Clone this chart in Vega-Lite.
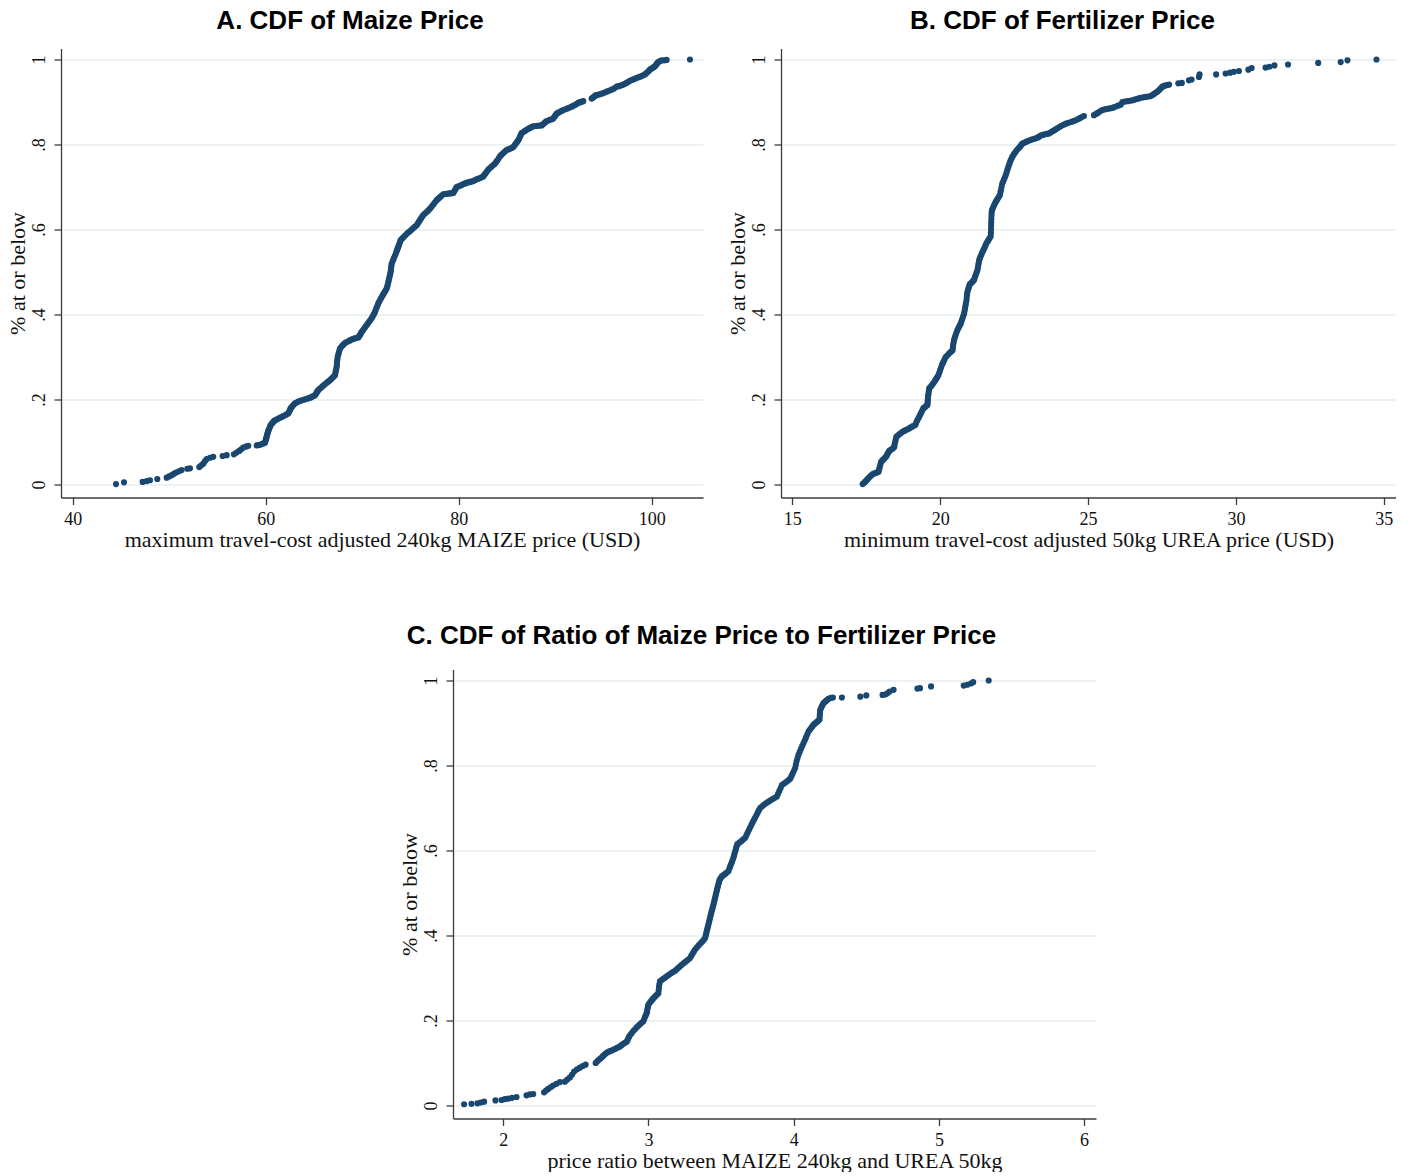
{
  "$schema": "https://vega.github.io/schema/vega-lite/v6.json",
  "background": "white",
  "padding": {"left": 6, "top": 7.5, "right": 0, "bottom": 0},
  "datasets": {
    "maize": [
      {"price": 44.49, "share": 0.001}, {"price": 45.32, "share": 0.005}, {"price": 47.25, "share": 0.006}, {"price": 47.67, "share": 0.008},
      {"price": 48.01, "share": 0.010}, {"price": 48.77, "share": 0.013}, {"price": 49.74, "share": 0.016}, {"price": 50.0, "share": 0.019},
      {"price": 50.26, "share": 0.022}, {"price": 50.48, "share": 0.025}, {"price": 50.70, "share": 0.028}, {"price": 51.0, "share": 0.031},
      {"price": 51.29, "share": 0.034}, {"price": 51.88, "share": 0.037}, {"price": 52.16, "share": 0.038}, {"price": 53.12, "share": 0.041},
      {"price": 53.33, "share": 0.045}, {"price": 53.54, "share": 0.049}, {"price": 53.72, "share": 0.055}, {"price": 53.89, "share": 0.060},
      {"price": 54.23, "share": 0.063}, {"price": 54.57, "share": 0.065}, {"price": 55.54, "share": 0.067}, {"price": 55.96, "share": 0.069},
      {"price": 56.71, "share": 0.071}, {"price": 56.98, "share": 0.075}, {"price": 57.26, "share": 0.079}, {"price": 57.47, "share": 0.083},
      {"price": 57.68, "share": 0.087}, {"price": 57.94, "share": 0.089}, {"price": 58.20, "share": 0.091}, {"price": 59.07, "share": 0.092},
      {"price": 59.28, "share": 0.093}, {"price": 59.48, "share": 0.094}, {"price": 59.7, "share": 0.096}, {"price": 59.93, "share": 0.098},
      {"price": 59.975, "share": 0.1015}, {"price": 60.02, "share": 0.105}, {"price": 60.06, "share": 0.1085}, {"price": 60.10, "share": 0.112},
      {"price": 60.14, "share": 0.1155}, {"price": 60.18, "share": 0.119}, {"price": 60.225, "share": 0.1225}, {"price": 60.27, "share": 0.126},
      {"price": 60.335, "share": 0.1295}, {"price": 60.40, "share": 0.133}, {"price": 60.46, "share": 0.1365}, {"price": 60.52, "share": 0.140},
      {"price": 60.63, "share": 0.143}, {"price": 60.74, "share": 0.146}, {"price": 60.85, "share": 0.1485}, {"price": 60.96, "share": 0.151},
      {"price": 61.135, "share": 0.153}, {"price": 61.31, "share": 0.155}, {"price": 61.485, "share": 0.157}, {"price": 61.66, "share": 0.159},
      {"price": 61.83, "share": 0.161}, {"price": 62.0, "share": 0.163}, {"price": 62.17, "share": 0.165}, {"price": 62.34, "share": 0.167},
      {"price": 62.405, "share": 0.170}, {"price": 62.47, "share": 0.173}, {"price": 62.53, "share": 0.176}, {"price": 62.59, "share": 0.179},
      {"price": 62.695, "share": 0.182}, {"price": 62.8, "share": 0.185}, {"price": 62.92, "share": 0.188}, {"price": 63.04, "share": 0.191},
      {"price": 63.21, "share": 0.193}, {"price": 63.38, "share": 0.195}, {"price": 63.555, "share": 0.1965}, {"price": 63.73, "share": 0.198},
      {"price": 63.945, "share": 0.1995}, {"price": 64.16, "share": 0.201}, {"price": 64.375, "share": 0.2025}, {"price": 64.59, "share": 0.204},
      {"price": 64.72, "share": 0.2055}, {"price": 64.85, "share": 0.207}, {"price": 64.98, "share": 0.2085}, {"price": 65.11, "share": 0.210},
      {"price": 65.195, "share": 0.213}, {"price": 65.28, "share": 0.216}, {"price": 65.365, "share": 0.219}, {"price": 65.45, "share": 0.222},
      {"price": 65.6, "share": 0.225}, {"price": 65.75, "share": 0.228}, {"price": 65.895, "share": 0.231}, {"price": 66.04, "share": 0.234},
      {"price": 66.195, "share": 0.237}, {"price": 66.35, "share": 0.240}, {"price": 66.505, "share": 0.2425}, {"price": 66.66, "share": 0.245},
      {"price": 66.79, "share": 0.248}, {"price": 66.92, "share": 0.251}, {"price": 67.05, "share": 0.254}, {"price": 67.18, "share": 0.257},
      {"price": 67.225, "share": 0.262}, {"price": 67.27, "share": 0.267}, {"price": 67.315, "share": 0.272}, {"price": 67.36, "share": 0.277},
      {"price": 67.38, "share": 0.2825}, {"price": 67.40, "share": 0.288}, {"price": 67.43, "share": 0.294}, {"price": 67.46, "share": 0.300},
      {"price": 67.52, "share": 0.305}, {"price": 67.58, "share": 0.310}, {"price": 67.64, "share": 0.315}, {"price": 67.70, "share": 0.320},
      {"price": 67.83, "share": 0.3235}, {"price": 67.96, "share": 0.327}, {"price": 68.09, "share": 0.330}, {"price": 68.22, "share": 0.333},
      {"price": 68.39, "share": 0.335}, {"price": 68.56, "share": 0.337}, {"price": 68.735, "share": 0.339}, {"price": 68.91, "share": 0.341},
      {"price": 69.08, "share": 0.3425}, {"price": 69.25, "share": 0.344}, {"price": 69.425, "share": 0.345}, {"price": 69.60, "share": 0.346},
      {"price": 69.69, "share": 0.349}, {"price": 69.78, "share": 0.352}, {"price": 69.865, "share": 0.3555}, {"price": 69.95, "share": 0.359},
      {"price": 70.08, "share": 0.363}, {"price": 70.21, "share": 0.367}, {"price": 70.34, "share": 0.371}, {"price": 70.47, "share": 0.375},
      {"price": 70.595, "share": 0.379}, {"price": 70.72, "share": 0.383}, {"price": 70.85, "share": 0.387}, {"price": 70.98, "share": 0.391},
      {"price": 71.065, "share": 0.3945}, {"price": 71.15, "share": 0.398}, {"price": 71.24, "share": 0.402}, {"price": 71.33, "share": 0.406},
      {"price": 71.415, "share": 0.411}, {"price": 71.50, "share": 0.416}, {"price": 71.585, "share": 0.421}, {"price": 71.67, "share": 0.426},
      {"price": 71.785, "share": 0.431}, {"price": 71.9, "share": 0.436}, {"price": 72.01, "share": 0.4405}, {"price": 72.12, "share": 0.445},
      {"price": 72.225, "share": 0.449}, {"price": 72.33, "share": 0.453}, {"price": 72.435, "share": 0.457}, {"price": 72.54, "share": 0.461},
      {"price": 72.595, "share": 0.4655}, {"price": 72.65, "share": 0.470}, {"price": 72.70, "share": 0.475}, {"price": 72.75, "share": 0.480},
      {"price": 72.80, "share": 0.485}, {"price": 72.85, "share": 0.490}, {"price": 72.90, "share": 0.495}, {"price": 72.95, "share": 0.500},
      {"price": 72.975, "share": 0.505}, {"price": 73.0, "share": 0.510}, {"price": 73.03, "share": 0.515}, {"price": 73.06, "share": 0.520},
      {"price": 73.17, "share": 0.526}, {"price": 73.28, "share": 0.532}, {"price": 73.39, "share": 0.538}, {"price": 73.50, "share": 0.544},
      {"price": 73.56, "share": 0.548}, {"price": 73.62, "share": 0.552}, {"price": 73.68, "share": 0.5555}, {"price": 73.74, "share": 0.559},
      {"price": 73.805, "share": 0.563}, {"price": 73.87, "share": 0.567}, {"price": 73.93, "share": 0.571}, {"price": 73.99, "share": 0.575},
      {"price": 74.16, "share": 0.579}, {"price": 74.33, "share": 0.583}, {"price": 74.50, "share": 0.587}, {"price": 74.67, "share": 0.591},
      {"price": 74.835, "share": 0.594}, {"price": 75.0, "share": 0.597}, {"price": 75.165, "share": 0.6005}, {"price": 75.33, "share": 0.604},
      {"price": 75.49, "share": 0.607}, {"price": 75.65, "share": 0.610}, {"price": 75.76, "share": 0.614}, {"price": 75.87, "share": 0.618},
      {"price": 75.985, "share": 0.622}, {"price": 76.1, "share": 0.626}, {"price": 76.215, "share": 0.630}, {"price": 76.33, "share": 0.634},
      {"price": 76.505, "share": 0.6375}, {"price": 76.68, "share": 0.641}, {"price": 76.855, "share": 0.645}, {"price": 77.03, "share": 0.649},
      {"price": 77.205, "share": 0.654}, {"price": 77.38, "share": 0.659}, {"price": 77.55, "share": 0.664}, {"price": 77.72, "share": 0.669},
      {"price": 77.89, "share": 0.6725}, {"price": 78.06, "share": 0.676}, {"price": 78.23, "share": 0.6795}, {"price": 78.40, "share": 0.683},
      {"price": 78.575, "share": 0.6835}, {"price": 78.75, "share": 0.684}, {"price": 78.925, "share": 0.6845}, {"price": 79.1, "share": 0.685},
      {"price": 79.27, "share": 0.6855}, {"price": 79.44, "share": 0.686}, {"price": 79.53, "share": 0.6895}, {"price": 79.62, "share": 0.693},
      {"price": 79.705, "share": 0.6965}, {"price": 79.79, "share": 0.700}, {"price": 79.965, "share": 0.7015}, {"price": 80.14, "share": 0.703},
      {"price": 80.32, "share": 0.705}, {"price": 80.5, "share": 0.707}, {"price": 80.665, "share": 0.7085}, {"price": 80.83, "share": 0.710},
      {"price": 81.0, "share": 0.711}, {"price": 81.17, "share": 0.712}, {"price": 81.34, "share": 0.713}, {"price": 81.51, "share": 0.714},
      {"price": 81.685, "share": 0.716}, {"price": 81.86, "share": 0.718}, {"price": 82.03, "share": 0.7195}, {"price": 82.2, "share": 0.721},
      {"price": 82.375, "share": 0.723}, {"price": 82.55, "share": 0.725}, {"price": 82.68, "share": 0.729}, {"price": 82.81, "share": 0.733},
      {"price": 82.94, "share": 0.737}, {"price": 83.07, "share": 0.741}, {"price": 83.245, "share": 0.7445}, {"price": 83.42, "share": 0.748},
      {"price": 83.59, "share": 0.7515}, {"price": 83.76, "share": 0.755}, {"price": 83.89, "share": 0.759}, {"price": 84.02, "share": 0.763},
      {"price": 84.15, "share": 0.7675}, {"price": 84.28, "share": 0.772}, {"price": 84.45, "share": 0.776}, {"price": 84.62, "share": 0.780},
      {"price": 84.795, "share": 0.7835}, {"price": 84.97, "share": 0.787}, {"price": 85.14, "share": 0.7885}, {"price": 85.31, "share": 0.790},
      {"price": 85.485, "share": 0.792}, {"price": 85.66, "share": 0.794}, {"price": 85.79, "share": 0.798}, {"price": 85.92, "share": 0.802},
      {"price": 86.05, "share": 0.806}, {"price": 86.18, "share": 0.810}, {"price": 86.265, "share": 0.814}, {"price": 86.35, "share": 0.818},
      {"price": 86.44, "share": 0.8225}, {"price": 86.53, "share": 0.827}, {"price": 86.70, "share": 0.8295}, {"price": 86.87, "share": 0.832},
      {"price": 87.04, "share": 0.8345}, {"price": 87.21, "share": 0.837}, {"price": 87.34, "share": 0.8385}, {"price": 87.47, "share": 0.840},
      {"price": 87.6, "share": 0.8415}, {"price": 87.73, "share": 0.843}, {"price": 87.95, "share": 0.8435}, {"price": 88.17, "share": 0.844},
      {"price": 88.385, "share": 0.8445}, {"price": 88.60, "share": 0.845}, {"price": 88.73, "share": 0.8475}, {"price": 88.86, "share": 0.850},
      {"price": 88.99, "share": 0.8525}, {"price": 89.12, "share": 0.855}, {"price": 89.29, "share": 0.8565}, {"price": 89.46, "share": 0.858},
      {"price": 89.63, "share": 0.8595}, {"price": 89.80, "share": 0.861}, {"price": 89.89, "share": 0.864}, {"price": 89.98, "share": 0.867},
      {"price": 90.07, "share": 0.870}, {"price": 90.16, "share": 0.873}, {"price": 90.33, "share": 0.875}, {"price": 90.5, "share": 0.877},
      {"price": 90.67, "share": 0.879}, {"price": 90.84, "share": 0.881}, {"price": 91.06, "share": 0.883}, {"price": 91.28, "share": 0.885},
      {"price": 91.495, "share": 0.887}, {"price": 91.71, "share": 0.889}, {"price": 91.88, "share": 0.891}, {"price": 92.05, "share": 0.893},
      {"price": 92.225, "share": 0.8955}, {"price": 92.40, "share": 0.898}, {"price": 92.525, "share": 0.899}, {"price": 92.65, "share": 0.900},
      {"price": 92.78, "share": 0.901}, {"price": 92.91, "share": 0.902}, {"price": 93.78, "share": 0.908}, {"price": 93.89, "share": 0.910},
      {"price": 94.0, "share": 0.912}, {"price": 94.115, "share": 0.914}, {"price": 94.23, "share": 0.916}, {"price": 94.415, "share": 0.917},
      {"price": 94.6, "share": 0.918}, {"price": 94.79, "share": 0.9195}, {"price": 94.98, "share": 0.921}, {"price": 95.19, "share": 0.923},
      {"price": 95.4, "share": 0.925}, {"price": 95.625, "share": 0.927}, {"price": 95.85, "share": 0.929}, {"price": 96.11, "share": 0.932},
      {"price": 96.37, "share": 0.936}, {"price": 96.535, "share": 0.937}, {"price": 96.7, "share": 0.938}, {"price": 96.88, "share": 0.9395},
      {"price": 97.06, "share": 0.941}, {"price": 97.23, "share": 0.943}, {"price": 97.4, "share": 0.945}, {"price": 97.575, "share": 0.9475},
      {"price": 97.75, "share": 0.950}, {"price": 97.965, "share": 0.952}, {"price": 98.18, "share": 0.954}, {"price": 98.395, "share": 0.956},
      {"price": 98.61, "share": 0.958}, {"price": 98.785, "share": 0.9595}, {"price": 98.96, "share": 0.961}, {"price": 99.135, "share": 0.963},
      {"price": 99.31, "share": 0.965}, {"price": 99.435, "share": 0.9675}, {"price": 99.56, "share": 0.970}, {"price": 99.69, "share": 0.973},
      {"price": 99.82, "share": 0.976}, {"price": 99.95, "share": 0.978}, {"price": 100.08, "share": 0.980}, {"price": 100.21, "share": 0.982},
      {"price": 100.34, "share": 0.984}, {"price": 100.425, "share": 0.9865}, {"price": 100.51, "share": 0.989}, {"price": 100.595, "share": 0.9915},
      {"price": 100.68, "share": 0.994}, {"price": 100.86, "share": 0.996}, {"price": 101.03, "share": 0.998}, {"price": 101.3, "share": 0.998},
      {"price": 101.55, "share": 0.999}, {"price": 103.97, "share": 1.0}
    ],
    "urea": [
      {"price": 17.38, "share": 0.001}, {"price": 17.42, "share": 0.0035}, {"price": 17.46, "share": 0.006}, {"price": 17.50, "share": 0.009},
      {"price": 17.54, "share": 0.012}, {"price": 17.58, "share": 0.015}, {"price": 17.62, "share": 0.018}, {"price": 17.665, "share": 0.021},
      {"price": 17.71, "share": 0.024}, {"price": 17.76, "share": 0.0255}, {"price": 17.81, "share": 0.027}, {"price": 17.865, "share": 0.0285},
      {"price": 17.92, "share": 0.030}, {"price": 17.94, "share": 0.036}, {"price": 17.96, "share": 0.041}, {"price": 17.98, "share": 0.047},
      {"price": 18.0, "share": 0.053}, {"price": 18.04, "share": 0.056}, {"price": 18.08, "share": 0.059}, {"price": 18.125, "share": 0.062},
      {"price": 18.17, "share": 0.065}, {"price": 18.195, "share": 0.0685}, {"price": 18.22, "share": 0.072}, {"price": 18.25, "share": 0.0755},
      {"price": 18.28, "share": 0.079}, {"price": 18.32, "share": 0.081}, {"price": 18.36, "share": 0.083}, {"price": 18.405, "share": 0.0855},
      {"price": 18.45, "share": 0.088}, {"price": 18.46, "share": 0.094}, {"price": 18.48, "share": 0.100}, {"price": 18.50, "share": 0.106},
      {"price": 18.52, "share": 0.112}, {"price": 18.57, "share": 0.115}, {"price": 18.62, "share": 0.118}, {"price": 18.675, "share": 0.121},
      {"price": 18.73, "share": 0.124}, {"price": 18.785, "share": 0.126}, {"price": 18.84, "share": 0.128}, {"price": 18.895, "share": 0.130},
      {"price": 18.95, "share": 0.132}, {"price": 19.0, "share": 0.134}, {"price": 19.05, "share": 0.136}, {"price": 19.105, "share": 0.138},
      {"price": 19.16, "share": 0.140}, {"price": 19.19, "share": 0.145}, {"price": 19.22, "share": 0.150}, {"price": 19.255, "share": 0.1545},
      {"price": 19.29, "share": 0.159}, {"price": 19.325, "share": 0.164}, {"price": 19.36, "share": 0.169}, {"price": 19.395, "share": 0.174},
      {"price": 19.43, "share": 0.179}, {"price": 19.465, "share": 0.181}, {"price": 19.50, "share": 0.183}, {"price": 19.535, "share": 0.185},
      {"price": 19.57, "share": 0.187}, {"price": 19.575, "share": 0.1915}, {"price": 19.58, "share": 0.196}, {"price": 19.585, "share": 0.201},
      {"price": 19.59, "share": 0.206}, {"price": 19.60, "share": 0.211}, {"price": 19.61, "share": 0.216}, {"price": 19.62, "share": 0.221},
      {"price": 19.63, "share": 0.226}, {"price": 19.67, "share": 0.2295}, {"price": 19.71, "share": 0.233}, {"price": 19.755, "share": 0.237},
      {"price": 19.80, "share": 0.241}, {"price": 19.835, "share": 0.245}, {"price": 19.87, "share": 0.249}, {"price": 19.905, "share": 0.253},
      {"price": 19.94, "share": 0.257}, {"price": 19.97, "share": 0.263}, {"price": 20.0, "share": 0.269}, {"price": 20.03, "share": 0.275},
      {"price": 20.06, "share": 0.281}, {"price": 20.09, "share": 0.2855}, {"price": 20.12, "share": 0.290}, {"price": 20.155, "share": 0.295},
      {"price": 20.19, "share": 0.300}, {"price": 20.245, "share": 0.304}, {"price": 20.30, "share": 0.308}, {"price": 20.36, "share": 0.312},
      {"price": 20.42, "share": 0.316}, {"price": 20.43, "share": 0.322}, {"price": 20.44, "share": 0.328}, {"price": 20.455, "share": 0.334},
      {"price": 20.47, "share": 0.340}, {"price": 20.495, "share": 0.3455}, {"price": 20.52, "share": 0.351}, {"price": 20.55, "share": 0.357},
      {"price": 20.58, "share": 0.363}, {"price": 20.61, "share": 0.367}, {"price": 20.64, "share": 0.371}, {"price": 20.67, "share": 0.375},
      {"price": 20.70, "share": 0.379}, {"price": 20.725, "share": 0.3845}, {"price": 20.75, "share": 0.390}, {"price": 20.78, "share": 0.396},
      {"price": 20.81, "share": 0.402}, {"price": 20.825, "share": 0.408}, {"price": 20.84, "share": 0.414}, {"price": 20.855, "share": 0.420},
      {"price": 20.87, "share": 0.426}, {"price": 20.89, "share": 0.433}, {"price": 20.90, "share": 0.440}, {"price": 20.91, "share": 0.447},
      {"price": 20.92, "share": 0.453}, {"price": 20.94, "share": 0.4575}, {"price": 20.96, "share": 0.462}, {"price": 20.98, "share": 0.4665},
      {"price": 21.0, "share": 0.471}, {"price": 21.04, "share": 0.4735}, {"price": 21.08, "share": 0.476}, {"price": 21.115, "share": 0.479},
      {"price": 21.15, "share": 0.482}, {"price": 21.175, "share": 0.4875}, {"price": 21.20, "share": 0.493}, {"price": 21.23, "share": 0.4985},
      {"price": 21.26, "share": 0.504}, {"price": 21.275, "share": 0.510}, {"price": 21.29, "share": 0.516}, {"price": 21.305, "share": 0.522},
      {"price": 21.32, "share": 0.528}, {"price": 21.345, "share": 0.5325}, {"price": 21.37, "share": 0.537}, {"price": 21.40, "share": 0.542},
      {"price": 21.43, "share": 0.547}, {"price": 21.465, "share": 0.552}, {"price": 21.5, "share": 0.557}, {"price": 21.53, "share": 0.562},
      {"price": 21.56, "share": 0.567}, {"price": 21.595, "share": 0.571}, {"price": 21.63, "share": 0.575}, {"price": 21.67, "share": 0.5795},
      {"price": 21.71, "share": 0.584}, {"price": 21.715, "share": 0.592}, {"price": 21.72, "share": 0.600}, {"price": 21.722, "share": 0.608},
      {"price": 21.725, "share": 0.616}, {"price": 21.73, "share": 0.624}, {"price": 21.735, "share": 0.632}, {"price": 21.74, "share": 0.639},
      {"price": 21.75, "share": 0.645}, {"price": 21.78, "share": 0.650}, {"price": 21.81, "share": 0.655}, {"price": 21.845, "share": 0.660},
      {"price": 21.88, "share": 0.665}, {"price": 21.915, "share": 0.669}, {"price": 21.95, "share": 0.673}, {"price": 21.985, "share": 0.677},
      {"price": 22.02, "share": 0.681}, {"price": 22.04, "share": 0.688}, {"price": 22.06, "share": 0.694}, {"price": 22.08, "share": 0.701},
      {"price": 22.10, "share": 0.708}, {"price": 22.13, "share": 0.713}, {"price": 22.16, "share": 0.718}, {"price": 22.19, "share": 0.723},
      {"price": 22.22, "share": 0.728}, {"price": 22.245, "share": 0.734}, {"price": 22.27, "share": 0.740}, {"price": 22.30, "share": 0.746},
      {"price": 22.33, "share": 0.752}, {"price": 22.355, "share": 0.757}, {"price": 22.38, "share": 0.762}, {"price": 22.41, "share": 0.7665},
      {"price": 22.44, "share": 0.771}, {"price": 22.48, "share": 0.7755}, {"price": 22.52, "share": 0.780}, {"price": 22.565, "share": 0.784},
      {"price": 22.61, "share": 0.788}, {"price": 22.655, "share": 0.7915}, {"price": 22.70, "share": 0.795}, {"price": 22.74, "share": 0.7985},
      {"price": 22.78, "share": 0.802}, {"price": 22.84, "share": 0.804}, {"price": 22.9, "share": 0.806}, {"price": 22.965, "share": 0.808},
      {"price": 23.03, "share": 0.810}, {"price": 23.095, "share": 0.8115}, {"price": 23.16, "share": 0.813}, {"price": 23.225, "share": 0.8145},
      {"price": 23.29, "share": 0.816}, {"price": 23.345, "share": 0.8185}, {"price": 23.40, "share": 0.821}, {"price": 23.47, "share": 0.8225},
      {"price": 23.54, "share": 0.824}, {"price": 23.61, "share": 0.825}, {"price": 23.68, "share": 0.826}, {"price": 23.75, "share": 0.829},
      {"price": 23.82, "share": 0.832}, {"price": 23.89, "share": 0.835}, {"price": 23.96, "share": 0.838}, {"price": 24.03, "share": 0.841},
      {"price": 24.10, "share": 0.844}, {"price": 24.175, "share": 0.8465}, {"price": 24.25, "share": 0.849}, {"price": 24.335, "share": 0.851},
      {"price": 24.42, "share": 0.853}, {"price": 24.50, "share": 0.855}, {"price": 24.58, "share": 0.857}, {"price": 24.65, "share": 0.8595},
      {"price": 24.72, "share": 0.862}, {"price": 24.79, "share": 0.8645}, {"price": 24.86, "share": 0.867}, {"price": 25.20, "share": 0.869},
      {"price": 25.27, "share": 0.872}, {"price": 25.34, "share": 0.875}, {"price": 25.41, "share": 0.878}, {"price": 25.48, "share": 0.881},
      {"price": 25.565, "share": 0.8825}, {"price": 25.65, "share": 0.884}, {"price": 25.735, "share": 0.885}, {"price": 25.82, "share": 0.886},
      {"price": 25.89, "share": 0.888}, {"price": 25.96, "share": 0.890}, {"price": 26.035, "share": 0.892}, {"price": 26.11, "share": 0.894},
      {"price": 26.16, "share": 0.900}, {"price": 26.245, "share": 0.901}, {"price": 26.33, "share": 0.902}, {"price": 26.415, "share": 0.903},
      {"price": 26.50, "share": 0.904}, {"price": 26.57, "share": 0.9055}, {"price": 26.64, "share": 0.907}, {"price": 26.71, "share": 0.9085},
      {"price": 26.78, "share": 0.910}, {"price": 26.865, "share": 0.911}, {"price": 26.95, "share": 0.912}, {"price": 27.035, "share": 0.913},
      {"price": 27.12, "share": 0.914}, {"price": 27.175, "share": 0.9165}, {"price": 27.23, "share": 0.919}, {"price": 27.285, "share": 0.9215},
      {"price": 27.34, "share": 0.924}, {"price": 27.385, "share": 0.927}, {"price": 27.43, "share": 0.930}, {"price": 27.47, "share": 0.933},
      {"price": 27.51, "share": 0.936}, {"price": 27.565, "share": 0.9375}, {"price": 27.62, "share": 0.939}, {"price": 27.68, "share": 0.940},
      {"price": 27.74, "share": 0.941}, {"price": 28.05, "share": 0.944}, {"price": 28.17, "share": 0.945}, {"price": 28.41, "share": 0.951},
      {"price": 28.50, "share": 0.953}, {"price": 28.75, "share": 0.959}, {"price": 28.77, "share": 0.965}, {"price": 29.33, "share": 0.965},
      {"price": 29.65, "share": 0.967}, {"price": 29.80, "share": 0.969}, {"price": 29.93, "share": 0.971}, {"price": 30.10, "share": 0.973},
      {"price": 30.42, "share": 0.976}, {"price": 30.53, "share": 0.980}, {"price": 31.0, "share": 0.981}, {"price": 31.13, "share": 0.983},
      {"price": 31.30, "share": 0.986}, {"price": 31.76, "share": 0.988}, {"price": 32.78, "share": 0.992}, {"price": 33.54, "share": 0.994},
      {"price": 33.77, "share": 0.998}, {"price": 34.75, "share": 1.0}
    ],
    "ratio": [
      {"ratio": 1.730, "share": 0.003}, {"ratio": 1.781, "share": 0.004}, {"ratio": 1.822, "share": 0.005}, {"ratio": 1.845, "share": 0.007},
      {"ratio": 1.868, "share": 0.009}, {"ratio": 1.946, "share": 0.012}, {"ratio": 1.988, "share": 0.013}, {"ratio": 2.010, "share": 0.015},
      {"ratio": 2.033, "share": 0.016}, {"ratio": 2.060, "share": 0.018}, {"ratio": 2.091, "share": 0.020}, {"ratio": 2.160, "share": 0.024},
      {"ratio": 2.183, "share": 0.026}, {"ratio": 2.206, "share": 0.027}, {"ratio": 2.281, "share": 0.031}, {"ratio": 2.295, "share": 0.035},
      {"ratio": 2.309, "share": 0.039}, {"ratio": 2.326, "share": 0.043}, {"ratio": 2.343, "share": 0.047}, {"ratio": 2.366, "share": 0.051},
      {"ratio": 2.390, "share": 0.055}, {"ratio": 2.424, "share": 0.056}, {"ratio": 2.441, "share": 0.061}, {"ratio": 2.459, "share": 0.066},
      {"ratio": 2.474, "share": 0.073}, {"ratio": 2.488, "share": 0.080}, {"ratio": 2.508, "share": 0.085}, {"ratio": 2.528, "share": 0.089},
      {"ratio": 2.547, "share": 0.093}, {"ratio": 2.567, "share": 0.096}, {"ratio": 2.636, "share": 0.100}, {"ratio": 2.646, "share": 0.1035},
      {"ratio": 2.656, "share": 0.107}, {"ratio": 2.6665, "share": 0.110}, {"ratio": 2.677, "share": 0.113}, {"ratio": 2.686, "share": 0.116},
      {"ratio": 2.695, "share": 0.119}, {"ratio": 2.7035, "share": 0.1215}, {"ratio": 2.712, "share": 0.124}, {"ratio": 2.7235, "share": 0.126},
      {"ratio": 2.735, "share": 0.128}, {"ratio": 2.746, "share": 0.1295}, {"ratio": 2.757, "share": 0.131}, {"ratio": 2.7685, "share": 0.133},
      {"ratio": 2.780, "share": 0.135}, {"ratio": 2.7915, "share": 0.137}, {"ratio": 2.803, "share": 0.139}, {"ratio": 2.8145, "share": 0.142},
      {"ratio": 2.826, "share": 0.145}, {"ratio": 2.838, "share": 0.1475}, {"ratio": 2.850, "share": 0.150}, {"ratio": 2.8555, "share": 0.154},
      {"ratio": 2.861, "share": 0.158}, {"ratio": 2.8665, "share": 0.1615}, {"ratio": 2.872, "share": 0.165}, {"ratio": 2.8835, "share": 0.170},
      {"ratio": 2.895, "share": 0.175}, {"ratio": 2.907, "share": 0.1795}, {"ratio": 2.919, "share": 0.184}, {"ratio": 2.930, "share": 0.1875},
      {"ratio": 2.941, "share": 0.191}, {"ratio": 2.9525, "share": 0.1945}, {"ratio": 2.964, "share": 0.198}, {"ratio": 2.970, "share": 0.203},
      {"ratio": 2.976, "share": 0.208}, {"ratio": 2.982, "share": 0.2125}, {"ratio": 2.988, "share": 0.217}, {"ratio": 2.9905, "share": 0.222},
      {"ratio": 2.993, "share": 0.227}, {"ratio": 2.996, "share": 0.232}, {"ratio": 2.999, "share": 0.237}, {"ratio": 3.0075, "share": 0.241},
      {"ratio": 3.016, "share": 0.245}, {"ratio": 3.0245, "share": 0.2485}, {"ratio": 3.033, "share": 0.252}, {"ratio": 3.0415, "share": 0.255},
      {"ratio": 3.050, "share": 0.258}, {"ratio": 3.059, "share": 0.261}, {"ratio": 3.068, "share": 0.264}, {"ratio": 3.070, "share": 0.271},
      {"ratio": 3.072, "share": 0.278}, {"ratio": 3.075, "share": 0.285}, {"ratio": 3.079, "share": 0.292}, {"ratio": 3.0905, "share": 0.295},
      {"ratio": 3.102, "share": 0.298}, {"ratio": 3.114, "share": 0.301}, {"ratio": 3.126, "share": 0.304}, {"ratio": 3.1405, "share": 0.3075},
      {"ratio": 3.155, "share": 0.311}, {"ratio": 3.169, "share": 0.314}, {"ratio": 3.183, "share": 0.317}, {"ratio": 3.1945, "share": 0.3205},
      {"ratio": 3.206, "share": 0.324}, {"ratio": 3.2175, "share": 0.3275}, {"ratio": 3.229, "share": 0.331}, {"ratio": 3.2435, "share": 0.335},
      {"ratio": 3.258, "share": 0.339}, {"ratio": 3.272, "share": 0.343}, {"ratio": 3.286, "share": 0.347}, {"ratio": 3.2945, "share": 0.352},
      {"ratio": 3.303, "share": 0.357}, {"ratio": 3.312, "share": 0.362}, {"ratio": 3.321, "share": 0.367}, {"ratio": 3.3335, "share": 0.372},
      {"ratio": 3.346, "share": 0.377}, {"ratio": 3.3585, "share": 0.3815}, {"ratio": 3.371, "share": 0.386}, {"ratio": 3.3805, "share": 0.390},
      {"ratio": 3.390, "share": 0.394}, {"ratio": 3.3935, "share": 0.399}, {"ratio": 3.397, "share": 0.404}, {"ratio": 3.4005, "share": 0.409},
      {"ratio": 3.404, "share": 0.414}, {"ratio": 3.4075, "share": 0.4185}, {"ratio": 3.411, "share": 0.423}, {"ratio": 3.4145, "share": 0.428},
      {"ratio": 3.418, "share": 0.433}, {"ratio": 3.4215, "share": 0.438}, {"ratio": 3.425, "share": 0.443}, {"ratio": 3.4285, "share": 0.448},
      {"ratio": 3.432, "share": 0.453}, {"ratio": 3.436, "share": 0.458}, {"ratio": 3.440, "share": 0.463}, {"ratio": 3.4435, "share": 0.4675},
      {"ratio": 3.447, "share": 0.472}, {"ratio": 3.4505, "share": 0.477}, {"ratio": 3.454, "share": 0.482}, {"ratio": 3.4575, "share": 0.487},
      {"ratio": 3.461, "share": 0.492}, {"ratio": 3.4645, "share": 0.497}, {"ratio": 3.468, "share": 0.502}, {"ratio": 3.4715, "share": 0.507},
      {"ratio": 3.475, "share": 0.512}, {"ratio": 3.4785, "share": 0.5165}, {"ratio": 3.482, "share": 0.521}, {"ratio": 3.486, "share": 0.526},
      {"ratio": 3.490, "share": 0.531}, {"ratio": 3.4975, "share": 0.535}, {"ratio": 3.505, "share": 0.539}, {"ratio": 3.5165, "share": 0.542},
      {"ratio": 3.528, "share": 0.545}, {"ratio": 3.539, "share": 0.548}, {"ratio": 3.550, "share": 0.551}, {"ratio": 3.556, "share": 0.5565},
      {"ratio": 3.562, "share": 0.562}, {"ratio": 3.568, "share": 0.567}, {"ratio": 3.574, "share": 0.572}, {"ratio": 3.5795, "share": 0.5775},
      {"ratio": 3.585, "share": 0.583}, {"ratio": 3.5895, "share": 0.5885}, {"ratio": 3.594, "share": 0.594}, {"ratio": 3.5985, "share": 0.5995},
      {"ratio": 3.603, "share": 0.605}, {"ratio": 3.6075, "share": 0.610}, {"ratio": 3.612, "share": 0.615}, {"ratio": 3.6255, "share": 0.6185},
      {"ratio": 3.639, "share": 0.622}, {"ratio": 3.6525, "share": 0.626}, {"ratio": 3.666, "share": 0.630}, {"ratio": 3.6745, "share": 0.636},
      {"ratio": 3.683, "share": 0.642}, {"ratio": 3.6915, "share": 0.648}, {"ratio": 3.700, "share": 0.654}, {"ratio": 3.7085, "share": 0.660},
      {"ratio": 3.717, "share": 0.666}, {"ratio": 3.7255, "share": 0.6715}, {"ratio": 3.734, "share": 0.677}, {"ratio": 3.743, "share": 0.683},
      {"ratio": 3.752, "share": 0.689}, {"ratio": 3.7605, "share": 0.6945}, {"ratio": 3.769, "share": 0.700}, {"ratio": 3.783, "share": 0.704},
      {"ratio": 3.797, "share": 0.708}, {"ratio": 3.8115, "share": 0.7115}, {"ratio": 3.826, "share": 0.715}, {"ratio": 3.8405, "share": 0.718},
      {"ratio": 3.855, "share": 0.721}, {"ratio": 3.8695, "share": 0.724}, {"ratio": 3.884, "share": 0.727}, {"ratio": 3.8925, "share": 0.7335},
      {"ratio": 3.901, "share": 0.740}, {"ratio": 3.910, "share": 0.747}, {"ratio": 3.919, "share": 0.754}, {"ratio": 3.9335, "share": 0.7575},
      {"ratio": 3.948, "share": 0.761}, {"ratio": 3.962, "share": 0.765}, {"ratio": 3.976, "share": 0.769}, {"ratio": 3.9845, "share": 0.775},
      {"ratio": 3.993, "share": 0.781}, {"ratio": 4.0015, "share": 0.7875}, {"ratio": 4.010, "share": 0.794}, {"ratio": 4.015, "share": 0.802},
      {"ratio": 4.020, "share": 0.810}, {"ratio": 4.0265, "share": 0.8175}, {"ratio": 4.033, "share": 0.825}, {"ratio": 4.0415, "share": 0.832},
      {"ratio": 4.050, "share": 0.839}, {"ratio": 4.059, "share": 0.846}, {"ratio": 4.068, "share": 0.853}, {"ratio": 4.0765, "share": 0.8595},
      {"ratio": 4.085, "share": 0.866}, {"ratio": 4.0935, "share": 0.873}, {"ratio": 4.102, "share": 0.880}, {"ratio": 4.111, "share": 0.884},
      {"ratio": 4.120, "share": 0.888}, {"ratio": 4.1285, "share": 0.892}, {"ratio": 4.137, "share": 0.896}, {"ratio": 4.1475, "share": 0.899},
      {"ratio": 4.158, "share": 0.902}, {"ratio": 4.168, "share": 0.905}, {"ratio": 4.178, "share": 0.908}, {"ratio": 4.179, "share": 0.914},
      {"ratio": 4.180, "share": 0.920}, {"ratio": 4.1815, "share": 0.9255}, {"ratio": 4.183, "share": 0.931}, {"ratio": 4.189, "share": 0.9355},
      {"ratio": 4.195, "share": 0.940}, {"ratio": 4.2005, "share": 0.9435}, {"ratio": 4.206, "share": 0.947}, {"ratio": 4.2145, "share": 0.9495},
      {"ratio": 4.223, "share": 0.952}, {"ratio": 4.2315, "share": 0.9545}, {"ratio": 4.240, "share": 0.957}, {"ratio": 4.255, "share": 0.959},
      {"ratio": 4.270, "share": 0.960}, {"ratio": 4.332, "share": 0.960}, {"ratio": 4.459, "share": 0.962}, {"ratio": 4.500, "share": 0.965},
      {"ratio": 4.612, "share": 0.966}, {"ratio": 4.631, "share": 0.967}, {"ratio": 4.645, "share": 0.970}, {"ratio": 4.660, "share": 0.974},
      {"ratio": 4.688, "share": 0.978}, {"ratio": 4.852, "share": 0.981}, {"ratio": 4.870, "share": 0.982}, {"ratio": 4.946, "share": 0.986},
      {"ratio": 5.171, "share": 0.988}, {"ratio": 5.195, "share": 0.990}, {"ratio": 5.220, "share": 0.993}, {"ratio": 5.236, "share": 0.996},
      {"ratio": 5.343, "share": 1.0}
    ]
  },
  "vconcat": [
    {
      "hconcat": [
        {
          "width": 642,
          "height": 449,
          "title": {"text": "A. CDF of Maize Price", "dx": -32},
          "data": {"name": "maize"},
          "mark": "point",
          "encoding": {
            "x": {
              "field": "price", "type": "quantitative",
              "scale": {"domain": [38.79, 105.32], "nice": false, "zero": false},
              "axis": {"values": [40, 60, 80, 100], "title": "maximum travel-cost adjusted 240kg MAIZE price (USD)"}
            },
            "y": {
              "field": "share", "type": "quantitative",
              "scale": {"domain": [-0.0306, 1.0259], "nice": false, "zero": false},
              "axis": {"values": [0, 0.2, 0.4, 0.6, 0.8, 1], "title": "% at or below",
                       "labelExpr": "datum.value == 0 ? '0' : datum.value == 1 ? '1' : '.' + round(datum.value * 10)"}
            }
          }
        },
        {
          "width": 615,
          "height": 449,
          "title": {"text": "B. CDF of Fertilizer Price", "dx": -26},
          "data": {"name": "urea"},
          "mark": "point",
          "encoding": {
            "x": {
              "field": "price", "type": "quantitative",
              "scale": {"domain": [14.62, 35.41], "nice": false, "zero": false},
              "axis": {"values": [15, 20, 25, 30, 35], "title": "minimum travel-cost adjusted 50kg UREA price (USD)"}
            },
            "y": {
              "field": "share", "type": "quantitative",
              "scale": {"domain": [-0.0306, 1.0259], "nice": false, "zero": false},
              "axis": {"values": [0, 0.2, 0.4, 0.6, 0.8, 1], "title": "% at or below",
                       "labelExpr": "datum.value == 0 ? '0' : datum.value == 1 ? '1' : '.' + round(datum.value * 10)"}
            }
          }
        }
      ],
      "spacing": 23
    },
    {
      "hconcat": [
        {
          "width": 337,
          "height": 10,
          "data": {"values": []},
          "mark": "point",
          "encoding": {}
        },
        {
          "width": 643,
          "height": 449,
          "title": {"text": "C. CDF of Ratio of Maize Price to Fertilizer Price", "dx": -73, "offset": 21},
          "data": {"name": "ratio"},
          "mark": "point",
          "encoding": {
            "x": {
              "field": "ratio", "type": "quantitative",
              "scale": {"domain": [1.6536, 6.082], "nice": false, "zero": false},
              "axis": {"values": [2, 3, 4, 5, 6], "title": "price ratio between MAIZE 240kg and UREA 50kg"}
            },
            "y": {
              "field": "share", "type": "quantitative",
              "scale": {"domain": [-0.0306, 1.0259], "nice": false, "zero": false},
              "axis": {"values": [0, 0.2, 0.4, 0.6, 0.8, 1], "title": "% at or below",
                       "labelExpr": "datum.value == 0 ? '0' : datum.value == 1 ? '1' : '.' + round(datum.value * 10)"}
            }
          }
        }
      ],
      "spacing": 0
    }
  ],
  "spacing": 72,
  "config": {
    "view": {"stroke": null},
    "axis": {
      "domainColor": "#3c3c3c", "domainWidth": 1.3,
      "tickColor": "#3c3c3c", "tickWidth": 1.3, "tickSize": 7,
      "labelFont": "Liberation Serif", "labelFontSize": 18, "labelColor": "#111111",
      "labelFlush": false, "labelOverlap": false,
      "titleFont": "Liberation Serif", "titleFontSize": 22, "titleFontWeight": "normal", "titleColor": "#111111",
      "gridColor": "#e6eef0", "gridWidth": 1.6
    },
    "axisX": {"grid": false, "labelPadding": 6, "titlePadding": 1},
    "axisY": {"grid": true, "labelAngle": -90, "labelAlign": "center", "labelBaseline": "alphabetic", "labelPadding": 9.5, "titlePadding": 1.5},
    "title": {"font": "Liberation Sans", "fontSize": 26, "fontWeight": "bold", "color": "#000000", "anchor": "middle", "offset": 14.5, "baseline": "alphabetic"},
    "point": {"filled": true, "size": 38, "color": "#1a476f", "opacity": 1}
  }
}
